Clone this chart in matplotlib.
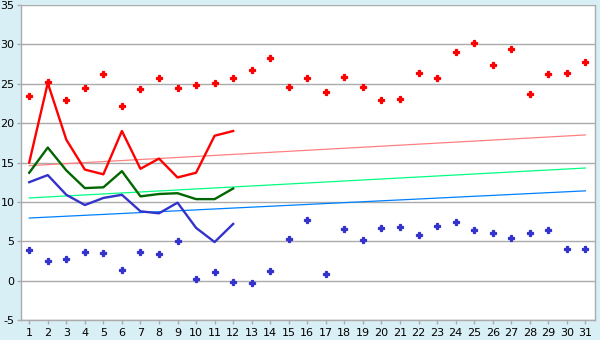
import matplotlib
matplotlib.use("Agg")
import matplotlib.pyplot as plt

days = list(range(1, 32))

max_points = [23.4, 25.2, 22.9, 24.5, 26.2, 22.2, 24.3, 25.7, 24.4, 24.9,
              25.1, 25.7, 26.8, 28.3, 24.6, 25.7, 23.9, 25.8, 24.6, 22.9,
              23.1, 26.4, 25.7, 29.0, 30.2, 27.4, 29.35, 23.75, 26.3, 26.4, 27.7]
min_points = [3.9, 2.5, 2.75, 3.65, 3.5, 1.35, 3.65, 3.4, 5.05, 0.2,
              1.1, -0.15, -0.3, 1.25, 5.3, 7.7, 0.85, 6.6, 5.2, 6.7,
              6.8, 5.8, 6.95, 7.45, 6.45, 6.05, 5.45, 6.05, 6.45, 4.05, 4.05]

line_days = list(range(1, 13))
red_line = [15.0, 25.1, 17.9, 14.1, 13.5, 19.0, 14.2, 15.5, 13.1, 13.7, 18.4, 19.0]
green_line = [13.7, 16.9, 14.0, 11.75, 11.85, 13.9, 10.7, 11.0, 11.1, 10.35, 10.35, 11.7]
blue_line = [12.5, 13.4, 10.9, 9.6, 10.5, 10.9, 8.8, 8.55, 9.9, 6.7, 4.9, 7.2]

trend_days = [1, 31]
red_trend = [14.6, 18.5]
green_trend = [10.5, 14.3]
blue_trend = [7.95, 11.4]

yticks = list(range(-5, 36, 5))

bg = "#D9EFF6"
grid_c = "#ABABAB"

fig = plt.figure(figsize=(6, 3.4), dpi=100, facecolor=bg)
ax = fig.add_axes([0.0345, 0.0588, 0.9572, 0.9265])
ax.set_facecolor("white")

for v in yticks:
    ax.axhline(v, color=grid_c, linewidth=1.0, zorder=1)

ax.plot(trend_days, red_trend, color="#FF8080", linewidth=0.9, zorder=2)
ax.plot(trend_days, green_trend, color="#00FF80", linewidth=0.9, zorder=2)
ax.plot(trend_days, blue_trend, color="#0080FF", linewidth=0.9, zorder=2)

ax.plot(line_days, red_line, color="#FF0000", linewidth=1.7, zorder=3)
ax.plot(line_days, green_line, color="#006600", linewidth=1.7, zorder=3)
ax.plot(line_days, blue_line, color="#3333CC", linewidth=1.7, zorder=3)

ax.plot(days, max_points, linestyle="none", marker="P", markersize=4.3,
        color="#FF0000", markeredgewidth=0.9, zorder=4)
ax.plot(days, min_points, linestyle="none", marker="P", markersize=4.3,
        color="#3333CC", markeredgewidth=0.9, zorder=4)

ax.set_xlim(0.54, 31.52)
ax.set_ylim(-5, 35)
ax.set_xticks(days)
ax.set_xticklabels([str(d) for d in days])
ax.set_yticks(yticks)
ax.set_yticklabels([str(v) for v in yticks])

for s in ["left", "bottom", "right", "top"]:
    ax.spines[s].set_color(grid_c)
    ax.spines[s].set_linewidth(1.0)
ax.spines["top"].set_visible(False)

ax.tick_params(axis="both", colors="#000000", labelsize=8, length=3,
               width=1.0, direction="out", pad=1.5)
ax.tick_params(axis="both", color=grid_c)
ax.tick_params(axis="x", pad=3)

fig.savefig("out.png", dpi=100, facecolor=bg)
